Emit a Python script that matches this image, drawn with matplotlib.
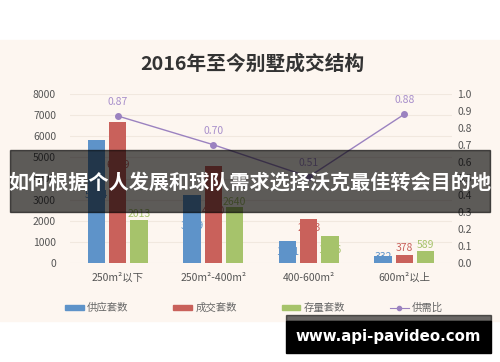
import matplotlib
matplotlib.use("Agg")
import matplotlib.pyplot as plt
import numpy as np
from matplotlib.patches import Rectangle
from matplotlib.lines import Line2D

plt.rcParams['font.family'] = ['Noto Sans CJK SC', 'DejaVu Sans']

# --- data ---
categories = ["250m²以下", "250m²-400m²", "400-600m²", "600m²以上"]
supply = [5824, 3199, 1051, 332]      # 供应套数
deals = [6689, 4580, 2063, 378]       # 成交套数
stock = [2013, 2640, 1256, 589]       # 存量套数
ratio = [0.87, 0.70, 0.51, 0.88]      # 供需比
left_ticks = list(range(0, 8001, 1000))
right_ticks = [round(0.1 * i, 1) for i in range(11)]

# label anchor shifts (value units) to mimic the reference placement
supply_lbl = [-2600, -1450, -530, -60]
deal_lbl = [-2070, -2100, -400, 340]
stock_lbl = [320, 260, -640, 270]

BLUE, RED, GREEN, PURPLE = "#5e93c9", "#c9615b", "#a6c36b", "#9b82c0"
CREAM = "#fdf6f0"
W, H = 500, 362

fig = plt.figure(figsize=(W / 100, H / 100), dpi=100, facecolor="white")
fig.patches.append(Rectangle((0, 1 - 321 / H), 1, (321 - 40) / H,
                             transform=fig.transFigure, color=CREAM, zorder=-5))

ax = fig.add_axes([70 / W, 1 - 263 / H, (452 - 70) / W, (263 - 94) / H])
ax.set_facecolor("none")
ax.set_zorder(1)
x = np.arange(len(categories))
bw, off = 0.18, 0.222

for vals, col, dx, shifts in [(supply, BLUE, -off, supply_lbl),
                              (deals, RED, 0, deal_lbl),
                              (stock, GREEN, off, stock_lbl)]:
    ax.bar(x + dx, vals, width=bw, color=col, zorder=2)
    for xi, v, s in zip(x, vals, shifts):
        ax.text(xi + dx, v + s, str(v), ha="center", va="center",
                fontsize=7.5, color=col, zorder=3)

ax.set_xlim(-0.5, len(categories) - 0.5)
ax.set_ylim(0, 8000)
ax.set_yticks(left_ticks)
ax.set_xticks(x)
ax.set_xticklabels(categories)
ax.grid(axis="y", color="#f1e8df", linewidth=0.8, zorder=0)
ax.set_axisbelow(True)
ax.tick_params(axis="y", length=0, pad=10, labelsize=7.5, labelcolor="#555555")
ax.tick_params(axis="x", length=0, pad=7, labelsize=7.5, labelcolor="#555555")
for sp in ax.spines.values():
    sp.set_visible(False)

ax2 = ax.twinx()
ax2.set_zorder(2)
ax2.set_facecolor("none")
ax2.set_ylim(0, 1.0)
ax2.set_yticks(right_ticks)
ax2.set_yticklabels([f"{t:.1f}" for t in right_ticks])
ax2.tick_params(axis="y", length=0, pad=4, labelsize=7.5, labelcolor="#555555")
for sp in ax2.spines.values():
    sp.set_visible(False)
ax2.plot(x, ratio, "-o", color=PURPLE, lw=1, ms=4, zorder=4)
for xi, r in zip(x, ratio):
    ax2.annotate(f"{r:.2f}", (xi, r), xytext=(0, 10), textcoords="offset points",
                 ha="center", va="center", fontsize=7.5, color="#a88fcb")

fig.text(252 / W, 1 - 64 / H, "2016年至今别墅成交结构", ha="center", va="center",
         fontsize=14.2, fontweight="bold", color="#333333")

handles = [Rectangle((0, 0), 1, 1, color=BLUE), Rectangle((0, 0), 1, 1, color=RED),
           Rectangle((0, 0), 1, 1, color=GREEN),
           Line2D([], [], color=PURPLE, lw=0.8, marker="o", ms=3)]
leg = fig.legend(handles, ["供应套数", "成交套数", "存量套数", "供需比"],
                 loc="center", bbox_to_anchor=(254 / W, 1 - 308 / H), ncol=4,
                 frameon=False, fontsize=7.5, handlelength=1.8, handleheight=0.45,
                 handletextpad=0.3, columnspacing=4.3)
for t in leg.get_texts():
    t.set_color("#666666")

# overlay banner
fig.patches.append(Rectangle((10 / W, 1 - 212 / H), 480 / W, 62 / H,
                             transform=fig.transFigure, color="black", alpha=0.63,
                             zorder=10))
fig.text(250 / W, 1 - 182 / H, "如何根据个人发展和球队需求选择沃克最佳转会目的地",
         ha="center", va="center", fontsize=14.5, fontweight="bold", color="white",
         zorder=11)

# watermark
fig.patches.append(Rectangle((286 / W, 1 - 321 / H), 205 / W, 6 / H,
                             transform=fig.transFigure, color="black", alpha=0.58,
                             zorder=10))
fig.patches.append(Rectangle((286 / W, 1 - 353 / H), 205 / W, 32 / H,
                             transform=fig.transFigure, color="black", zorder=10))
fig.text(388 / W, 1 - 337 / H, "www.api-pavideo.com", ha="center", va="center",
         fontsize=10.8, fontweight="bold", color="white", zorder=11,
         family=["DejaVu Sans"])

fig.savefig("out.png", dpi=100, facecolor="white")
